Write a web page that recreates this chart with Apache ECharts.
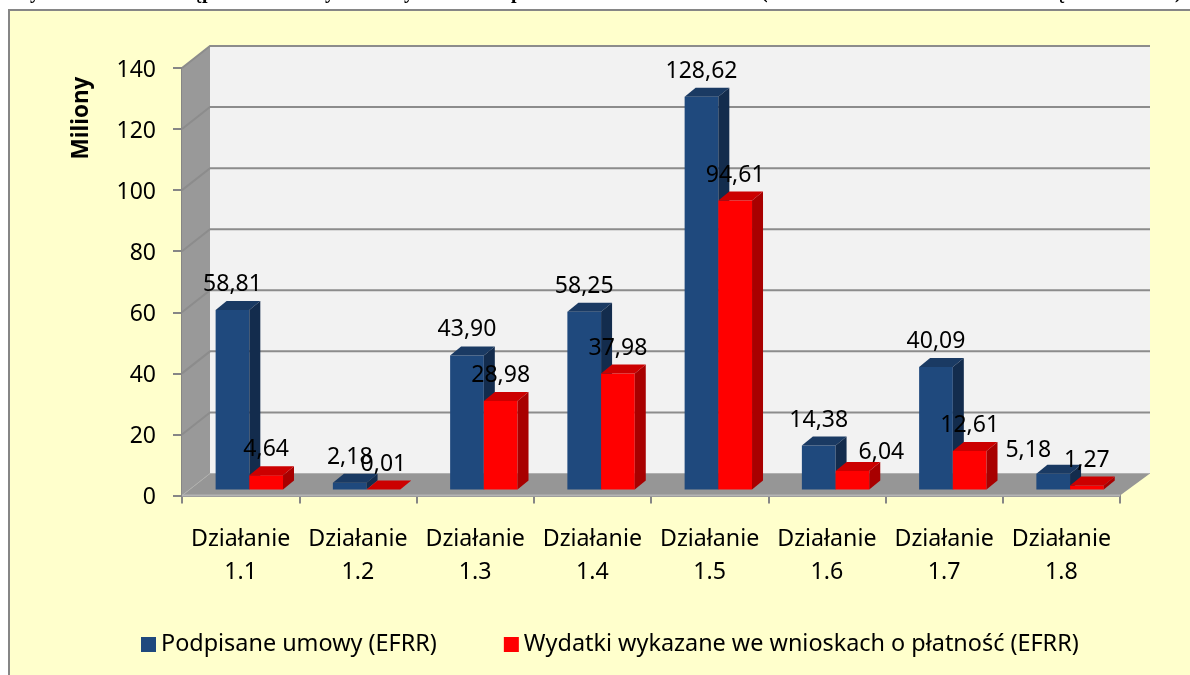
<!DOCTYPE html>
<html><head><meta charset="utf-8">
<style>html,body{margin:0;padding:0;background:#fff}#c{width:1190px;height:675px}</style>
<script src="https://cdn.jsdelivr.net/npm/echarts@6/dist/echarts.min.js"></script>
</head><body><div id="c"></div>
<script>
const categories = ['Działanie\n1.1','Działanie\n1.2','Działanie\n1.3','Działanie\n1.4','Działanie\n1.5','Działanie\n1.6','Działanie\n1.7','Działanie\n1.8'];
const umowy = [58.81,2.18,43.90,58.25,128.62,14.38,40.09,5.18];
const wydatki = [4.64,0.01,28.98,37.98,94.61,6.04,12.61,1.27];
const yTicks = [0,20,40,60,80,100,120,140];
const seriesNames = ['Podpisane umowy (EFRR)','Wydatki wykazane we wnioskach o płatność (EFRR)'];
const titleFragments = [['y',30],['ą',192],['p',202],['y',325],['y',404],['p',511],['(',761],['ę',1056],[')',1175]];

const FONT='"Noto Sans"', AX='#868686';
const WALL_DX=28, WALL_DY=22, BAR_DX=8.7, BAR_DY=6, DEPTH_X=11, DEPTH_Y=9, BAR_W=33.7;
const LABEL_NUDGE={'0:7':[-25,2],'1:5':[29,7]};

function poly(pts,fill,stroke){return {type:'polygon',shape:{points:pts},style:{fill:fill,stroke:stroke||null,lineWidth:stroke?1:0}};}

function renderWall(params,api){
  const band=api.size([1,0])[0];
  const x0=api.coord([0,0])[0]-band/2, x1=api.coord([categories.length-1,0])[0]+band/2;
  const xr=x1+WALL_DX+2;
  const yb=api.coord([0,0])[1], yt=api.coord([0,140])[1];
  const ch=[
    poly([[x0+WALL_DX,yt-WALL_DY],[xr,yt-WALL_DY],[xr,yb-WALL_DY],[x0+WALL_DX,yb-WALL_DY]],'#f2f2f2'),
    poly([[x0,yt],[x0+WALL_DX,yt-WALL_DY],[x0+WALL_DX,yb-WALL_DY],[x0,yb]],'#999999'),
    poly([[x0,yb],[x0+WALL_DX,yb-WALL_DY],[xr,yb-WALL_DY],[x1,yb]],'#969696')
  ];
  yTicks.forEach(t=>{
    const y=api.coord([0,t])[1];
    ch.push({type:'polyline',shape:{points:[[x0,y],[x0+WALL_DX,y-WALL_DY],[xr,y-WALL_DY]]},
      style:{fill:null,stroke:t===0?'#b0b0b0':'#8c8c8c',lineWidth:t===0?1:2}});
  });
  ch.push({type:'line',shape:{x1:x0,y1:yb,x2:x1,y2:yb},style:{stroke:'#b4b4b4',lineWidth:2}});
  return {type:'group',children:ch};
}

function barRenderer(si,side,front,topC,sideC){
  return function(params,api){
    const cat=api.value(0), v=api.value(1);
    const c=api.coord([cat,0])[0]+BAR_DX;
    const yb=api.coord([cat,0])[1]-BAR_DY, yt=api.coord([cat,v])[1]-BAR_DY;
    const xa=side<0?c-BAR_W:c, xb=xa+BAR_W;
    const n=LABEL_NUDGE[si+':'+cat]||[0,0];
    return {type:'group',children:[
      poly([[xa,yb],[xb,yb],[xb,yt],[xa,yt]],front),
      poly([[xa,yt],[xb,yt],[xb+DEPTH_X,yt-DEPTH_Y],[xa+DEPTH_X,yt-DEPTH_Y]],topC),
      poly([[xb,yb],[xb+DEPTH_X,yb-DEPTH_Y],[xb+DEPTH_X,yt-DEPTH_Y],[xb,yt]],sideC),
      {type:'text',z2:100,style:{text:v.toFixed(2).replace('.',','),x:(xa+xb)/2+n[0],y:yt-25.5+n[1],align:'center',verticalAlign:'middle',
        font:'23px '+FONT,fill:'#000'}}
    ]};
  };
}

const chart=echarts.init(document.getElementById('c'),null,{renderer:'canvas'});
chart.setOption({
  animation:false,
  backgroundColor:'#ffffff',
  textStyle:{fontFamily:FONT},
  grid:{left:182,right:70,top:68,bottom:179.5},
  graphic:[
    {type:'rect',z:-10,shape:{x:9,y:10,width:1300,height:800},style:{fill:'#ffffcc',stroke:AX,lineWidth:2}},
    {type:'text',z:5,rotation:Math.PI/2,x:82,y:118,style:{text:'Miliony',font:'bold 22.5px '+FONT,fill:'#000',align:'center',verticalAlign:'middle'}},
    ...titleFragments.map(f=>({type:'text',z:5,x:f[1],y:3,style:{text:f[0],font:'bold 20px "Liberation Serif"',fill:'#000',verticalAlign:'bottom'}}))
  ],
  legend:{left:136,top:628,itemWidth:15,itemHeight:15,itemGap:67,icon:'rect',data:seriesNames,
    textStyle:{fontSize:23.4,color:'#000',fontFamily:FONT}},
  xAxis:{type:'category',data:categories,boundaryGap:true,
    axisLine:{lineStyle:{color:AX,width:2}},axisTick:{show:true,length:8,lineStyle:{color:AX,width:2}},
    axisLabel:{color:'#000',fontSize:23.2,lineHeight:33,margin:27,interval:0,fontFamily:FONT},splitLine:{show:false}},
  yAxis:{type:'value',min:0,max:140,interval:20,
    axisLine:{show:true,lineStyle:{color:AX,width:2}},axisTick:{show:true,length:9,lineStyle:{color:AX,width:2}},
    axisLabel:{color:'#000',fontSize:23,margin:26,verticalAlign:'top',lineHeight:4,fontFamily:FONT},splitLine:{show:false}},
  series:[
    {type:'custom',name:'wall',silent:true,z:1,data:[[0,0]],encode:{x:0,y:1},renderItem:renderWall},
    {type:'custom',name:seriesNames[0],z:3,itemStyle:{color:'#1f497d'},encode:{x:0,y:1},data:umowy.map((v,i)=>[i,v]),renderItem:barRenderer(0,-1,'#1f497d','#1a3a63','#132c4d')},
    {type:'custom',name:seriesNames[1],z:3,itemStyle:{color:'#ff0000'},encode:{x:0,y:1},data:wydatki.map((v,i)=>[i,v]),renderItem:barRenderer(1,1,'#ff0000','#cc0000','#a80000')}
  ]
});
</script></body></html>
